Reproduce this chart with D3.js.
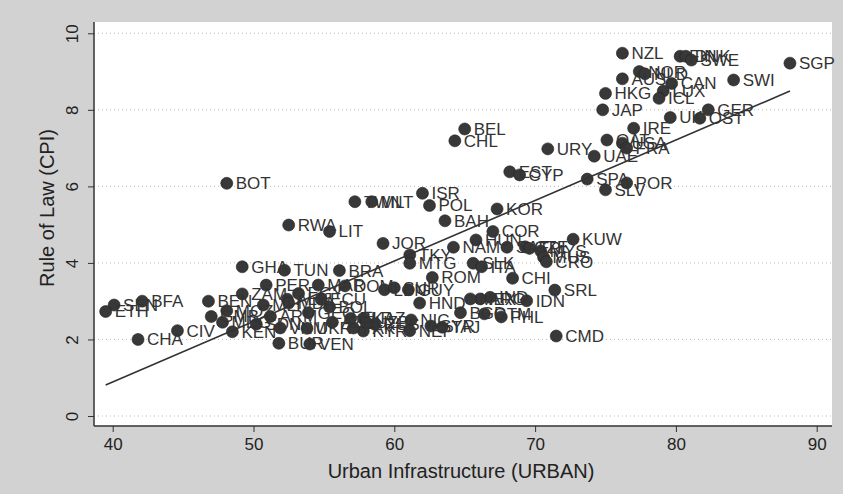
<!DOCTYPE html>
<html>
<head>
<meta charset="utf-8">
<script src="https://cdn.jsdelivr.net/npm/d3@7"></script>
<style>
  body { margin: 0; background: #d2d2d2; }
  text { font-family: "Liberation Sans", Arial, sans-serif; }
</style>
</head>
<body>
<div id="chart"></div>
<script>
// country codes, urban infrastructure and rule of law
var codes = ["NZL","FIN","DNK","SWE","NOR","NLD","AUS","CAN","LUX","ICL","HKG","SWI","SGP","JAP","GER","UK","OST","IRE",
  "QAT","USA","FRA","UAE","SPA","POR","SLV","URY","EST","CYP","BEL","CHL","BOT","TWN","MLT","ISR","POL","KOR","BAH",
  "RWA","LIT","COR","JOR","HUN","KUW","NAM","TKY","MTG","SAF","CZE","TRI","MYS","MUS","CRO","SLK","ITA","GHA","TUN",
  "BRA","ROM","CHI","SRL","IND","IDN","ARG","MEX","BGD","GTM","PHL","CMD","TAJ","SYR","NIC","NEP","KYR","PAK","SEN",
  "ETH","BFA","BEN","CHA","CIV","ZAM","PER","MAR","UKR","BUR","VEN","KEN","GMB","MOZ","MDG","MLI","ALB","EGY","ECU",
  "BOL","DOM","LBN","SUR","GUY","HND","ARM","MDA","GEO","AZE","KAZ","RUS","BLR","UZB","VNM","SDN"];
var urban = [76.2,80.3,80.7,81.1,77.4,77.8,76.2,79.7,79.1,78.8,75.0,84.1,88.1,74.8,82.3,79.6,81.7,77.0,
  75.1,76.2,76.5,74.2,73.7,76.5,75.0,70.9,68.2,68.9,65.0,64.3,48.1,57.2,58.4,62.0,62.5,67.3,63.6,
  52.5,55.4,67.0,59.2,65.8,72.7,64.2,61.1,61.1,68.0,69.3,69.6,70.4,70.6,70.8,65.6,66.2,49.2,52.2,
  56.1,62.7,68.4,71.4,66.8,69.4,66.1,65.4,64.7,66.4,67.6,71.5,63.4,62.6,61.2,61.1,57.8,57.1,40.1,
  39.5,42.1,46.8,41.8,44.6,49.2,50.9,54.6,53.8,51.8,54.0,48.5,47.0,48.1,47.8,50.7,52.4,53.2,54.8,
  55.4,56.5,59.3,60.0,61.0,61.8,51.2,52.5,53.9,55.6,57.8,58.6,56.9,58.0,51.9,50.2];
var rule = [9.48,9.40,9.40,9.30,9.00,8.94,8.81,8.69,8.49,8.30,8.43,8.78,9.22,8.00,8.00,7.80,7.78,7.52,
  7.21,7.13,7.00,6.79,6.19,6.09,5.91,6.98,6.38,6.30,7.50,7.19,6.08,5.60,5.60,5.82,5.50,5.41,5.10,
  4.99,4.82,4.82,4.51,4.60,4.62,4.41,4.21,3.99,4.41,4.42,4.38,4.31,4.15,4.03,3.99,3.90,3.90,3.81,
  3.80,3.62,3.60,3.29,3.10,3.01,3.06,3.06,2.70,2.67,2.59,2.09,2.32,2.35,2.51,2.23,2.22,2.30,2.90,
  2.73,3.00,3.00,2.00,2.23,3.19,3.42,3.42,2.29,1.90,1.88,2.20,2.60,2.75,2.45,2.90,3.05,3.20,3.05,
  2.85,3.40,3.30,3.35,3.30,2.95,2.60,2.95,2.70,2.45,2.55,2.40,2.55,2.45,2.30,2.40];

var xTicks = [40, 50, 60, 70, 80, 90];
var yTicks = [0, 2, 4, 6, 8, 10];
// fitted line
var fitA = -5.43, fitB = 0.158;

var W = 843, H = 494;
var svg = d3.select("#chart").append("svg").attr("width", W).attr("height", H);

svg.append("rect").attr("width", W).attr("height", H).attr("fill", "#d2d2d2");

var box = {left: 94, right: 832, top: 22, bottom: 426};
svg.append("rect")
    .attr("x", box.left).attr("y", box.top)
    .attr("width", box.right - box.left).attr("height", box.bottom - box.top)
    .attr("fill", "#fff");

var x = d3.scaleLinear().domain([40, 90]).range([112.7, 816.7]);
var y = d3.scaleLinear().domain([0, 10]).range([416, 33.3]);

// grid lines
svg.append("g").selectAll("line").data(yTicks).join("line")
    .attr("x1", box.left).attr("x2", box.right)
    .attr("y1", function(d) { return y(d); }).attr("y2", function(d) { return y(d); })
    .attr("stroke", "#bbb").attr("stroke-width", 1).attr("stroke-dasharray", "1,3");

// axes
var xAxis = svg.append("g").attr("transform", "translate(0," + box.bottom + ")")
    .call(d3.axisBottom(x).tickValues(xTicks).tickSize(6).tickPadding(6));
xAxis.select(".domain").attr("d", "M" + box.left + ",0H" + box.right).attr("stroke", "#333").attr("stroke-width", 1.5);
xAxis.selectAll("text").style("font-size", "17px").attr("fill", "#222");
xAxis.selectAll(".tick line").attr("stroke", "#333");

var yAxis = svg.append("g").attr("transform", "translate(" + box.left + ",0)")
    .call(d3.axisLeft(y).tickValues(yTicks).tickSize(6).tickPadding(6));
yAxis.select(".domain").attr("d", "M0," + box.top + "V" + box.bottom).attr("stroke", "#333").attr("stroke-width", 1.5);
yAxis.selectAll(".tick line").attr("stroke", "#333");
yAxis.selectAll("text")
    .style("font-size", "17px").attr("fill", "#222")
    .attr("x", 0).attr("dy", 0)
    .attr("text-anchor", "middle")
    .attr("transform", "translate(-16,0) rotate(-90)");

// titles
svg.append("text")
    .attr("x", 461).attr("y", 478)
    .attr("text-anchor", "middle").style("font-size", "20px").attr("fill", "#222")
    .text("Urban Infrastructure (URBAN)");
svg.append("text")
    .attr("transform", "translate(54,208) rotate(-90)")
    .attr("text-anchor", "middle").style("font-size", "20px").attr("fill", "#222")
    .text("Rule of Law (CPI)");

// points
var pts = codes.map(function(c, i) { return {code: c, u: urban[i], r: rule[i]}; });

var marks = svg.append("g");
marks.selectAll("circle").data(pts).join("circle")
    .attr("cx", function(d) { return x(d.u); })
    .attr("cy", function(d) { return y(d.r); })
    .attr("r", 6)
    .attr("fill", "#383838").attr("stroke", "#222").attr("stroke-width", 0.6);

marks.selectAll("text").data(pts).join("text")
    .attr("x", function(d) { return x(d.u) + 9; })
    .attr("y", function(d) { return y(d.r); })
    .attr("dy", "0.35em")
    .style("font-size", "17px").attr("fill", "#333")
    .text(function(d) { return d.code; });

// fitted line
var xr = d3.extent(urban);
svg.append("line")
    .attr("x1", x(xr[0])).attr("y1", y(fitA + fitB * xr[0]))
    .attr("x2", x(xr[1])).attr("y2", y(fitA + fitB * xr[1]))
    .attr("stroke", "#333").attr("stroke-width", 1.6);
</script>
</body>
</html>
